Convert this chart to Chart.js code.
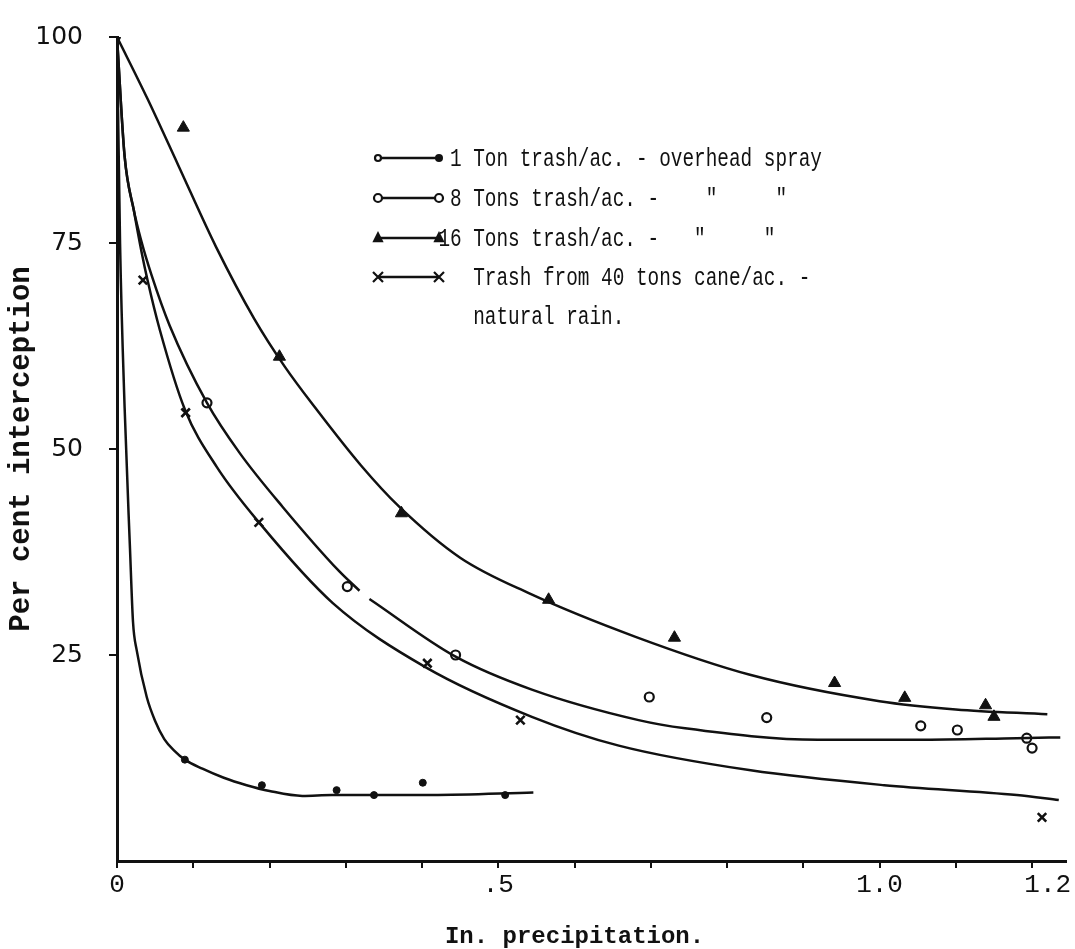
<!DOCTYPE html>
<html>
<head>
<meta charset="utf-8">
<title>Per cent interception vs precipitation</title>
<script src="https://cdn.jsdelivr.net/npm/chart.js@4.4.1/dist/chart.umd.min.js"></script>
<style>
  html, body { margin: 0; padding: 0; background: #fff; }
  #wrap { width: 1075px; height: 949px; }
</style>
</head>
<body>
<div id="wrap"><canvas id="chart" width="1075" height="949"></canvas></div>
<script>
// Hand-drawn curves as [inches, per cent]
const curve1Ton = [[0, 100], [0.004, 75], [0.010, 55], [0.017, 38], [0.021, 29], [0.026, 25.5],
    [0.039, 19.9], [0.05, 17], [0.062, 14.8], [0.075, 13.4], [0.089, 12.3], [0.112, 11.2],
    [0.14, 10.1], [0.17, 9.2], [0.2, 8.5], [0.243, 7.9], [0.282, 8.0], [0.413, 8.0], [0.546, 8.3]];
const curve8Tons = [[0, 100], [0.010, 85.5], [0.022, 79], [0.032, 75.2], [0.045, 71.2], [0.069, 65],
    [0.118, 55.6], [0.161, 49.5], [0.217, 43.0], [0.291, 35.2], [0.318, 32.8], [0.325, null],
    [0.331, 31.8], [0.444, 24.8], [0.544, 20.8], [0.684, 17.1], [0.745, 16.1], [0.919, 14.7],
    [1.05, 14.7], [1.18, 14.9], [1.237, 15.0]];
const curve16Tons = [[0, 100], [0.04, 92.5], [0.08, 84.5], [0.13, 74.5], [0.18, 65.8], [0.22, 60.0],
    [0.26, 55.0], [0.32, 48.0], [0.37, 43.0], [0.45, 36.8], [0.54, 32.5], [0.68, 27.2],
    [0.83, 22.6], [1.0, 19.4], [1.1, 18.4], [1.22, 17.8]];
const curve40Tons = [[0, 100], [0.010, 85.5], [0.022, 79], [0.032, 74], [0.040, 70.5], [0.056, 64.5],
    [0.089, 54.8], [0.131, 47.8], [0.187, 41], [0.283, 31.3], [0.405, 23.5], [0.544, 17.5],
    [0.658, 14.0], [0.831, 11], [1.006, 9.2], [1.18, 8], [1.235, 7.4]];

// Observed points
const points1Ton = [[0, 100], [0.089, 12.3], [0.19, 9.2], [0.288, 8.6], [0.337, 8.0], [0.401, 9.5], [0.509, 8.0]];
const points8Tons = [[0.118, 55.6], [0.302, 33.3], [0.444, 25.0], [0.698, 19.9], [0.852, 17.4],
    [1.054, 16.4], [1.102, 15.9], [1.193, 14.9], [1.2, 13.7]];
const points16Tons = [[0.087, 89.0], [0.213, 61.2], [0.373, 42.2], [0.566, 31.7], [0.731, 27.1],
    [0.941, 21.6], [1.033, 19.8], [1.139, 18.9], [1.15, 17.5]];
const points40Tons = [[0.034, 70.5], [0.09, 54.4], [0.186, 41.1], [0.407, 24.0], [0.529, 17.1], [1.213, 5.3]];

const xTickValues = [0, 0.1, 0.2, 0.3, 0.4, 0.5, 0.6, 0.7, 0.8, 0.9, 1.0, 1.1, 1.2];
const xTickText = { 0: "0", 5: ".5", 10: "1.0", 12: "  1.2" };
const yTickValues = [25, 50, 75, 100];

const legendLines = [
    "1 Ton trash/ac. - overhead spray",
    "8 Tons trash/ac. -    \"     \"",
    "16 Tons trash/ac. -   \"     \"",
    "Trash from 40 tons cane/ac. -",
    "natural rain."
];
const xTitle = "In. precipitation.";
const yTitle = "Per cent interception";

const INK = "#111";
const toXY = arr => arr.map(p => ({ x: p[0], y: p[1] }));

function curve(arr) {
    return {
        data: toXY(arr),
        showLine: true,
        borderColor: INK,
        borderWidth: 2.5,
        pointRadius: 0,
        cubicInterpolationMode: "monotone",
        spanGaps: false
    };
}

const datasets = [
    curve(curve1Ton),
    curve(curve8Tons),
    curve(curve16Tons),
    curve(curve40Tons),
    { data: toXY(points1Ton), pointStyle: "circle", pointRadius: 3.5, backgroundColor: INK, borderColor: INK, borderWidth: 1 },
    { data: toXY(points8Tons), pointStyle: "circle", pointRadius: 4.5, backgroundColor: "#fff", borderColor: INK, borderWidth: 2.2 },
    { data: toXY(points16Tons), pointStyle: "triangle", pointRadius: 7, backgroundColor: INK, borderColor: INK, borderWidth: 1 },
    { data: toXY(points40Tons), pointStyle: "crossRot", pointRadius: 6, borderColor: INK, borderWidth: 2.6 }
];

// typed legend and x caption drawn on top of the plot
function marker(ctx, kind, x, y, r) {
    ctx.beginPath();
    if (kind === "dot") {
        ctx.arc(x, y, r, 0, Math.PI * 2);
        ctx.fill();
    } else if (kind === "ring") {
        ctx.arc(x, y, r, 0, Math.PI * 2);
        ctx.fillStyle = "#fff";
        ctx.fill();
        ctx.stroke();
        ctx.fillStyle = INK;
    } else if (kind === "tri") {
        ctx.moveTo(x, y - r);
        ctx.lineTo(x + r * 0.8, y + r * 0.6);
        ctx.lineTo(x - r * 0.8, y + r * 0.6);
        ctx.closePath();
        ctx.fill();
    } else if (kind === "cross") {
        ctx.moveTo(x - r, y - r); ctx.lineTo(x + r, y + r);
        ctx.moveTo(x + r, y - r); ctx.lineTo(x - r, y + r);
        ctx.stroke();
    }
}

function typed(ctx, text, x, y, size, squeeze) {
    ctx.save();
    ctx.translate(x, y);
    ctx.scale(squeeze, 1);
    ctx.font = size + "px 'Liberation Mono', 'DejaVu Sans Mono', monospace";
    ctx.textBaseline = "middle";
    ctx.textAlign = "left";
    ctx.fillText(text, 0, 0);
    ctx.restore();
}

const typedNotes = {
    id: "typedNotes",
    afterDraw(chart) {
        const ctx = chart.ctx;
        const area = chart.chartArea;
        ctx.save();
        ctx.fillStyle = INK;
        ctx.strokeStyle = INK;
        ctx.lineWidth = 2.2;

        const size = 26, squeeze = 0.745;
        const cw = size * 0.6 * squeeze;
        const textX = area.left + 333;
        const lineL = area.left + 261, lineR = area.left + 322;
        const rowY = [158, 198, 238, 277, 316];
        const ends = [["ring", "dot"], ["ring", "ring"], ["tri", "tri"], ["cross", "cross"]];
        const sizes = { dot: 4, ring: 4, tri: 7, cross: 5 };

        ends.forEach((pair, i) => {
            const y = rowY[i];
            ctx.lineWidth = 2.6;
            ctx.beginPath();
            ctx.moveTo(lineL, y);
            ctx.lineTo(lineR, y);
            ctx.stroke();
            ctx.lineWidth = 2.2;
            marker(ctx, pair[0], lineL, y, sizes[pair[0]] - (i === 0 ? 1 : 0));
            marker(ctx, pair[1], lineR, y, sizes[pair[1]]);
        });

        const offsets = [0, 0, -1, 2, 2];
        legendLines.forEach((t, i) => {
            typed(ctx, t, textX + offsets[i] * cw, rowY[i] + 1, size, squeeze);
        });

        // x caption
        ctx.font = "bold 24px 'Liberation Mono', 'DejaVu Sans Mono', monospace";
        ctx.textAlign = "center";
        ctx.textBaseline = "middle";
        ctx.fillText(xTitle, chart.scales.x.getPixelForValue(0.6), 937);
        ctx.restore();
    }
};

new Chart(document.getElementById("chart"), {
    type: "scatter",
    data: { datasets: datasets },
    options: {
        responsive: false,
        animation: false,
        events: [],
        layout: { padding: { top: 37, right: 5, left: 0, bottom: 0 } },
        plugins: {
            legend: { display: false },
            tooltip: { enabled: false }
        },
        scales: {
            x: {
                type: "linear",
                min: 0,
                max: 1.245,
                afterBuildTicks: s => { s.ticks = xTickValues.map(v => ({ value: v })); },
                afterFit: s => { s.height = 88; s.paddingLeft = 0; s.paddingRight = 0; },
                ticks: {
                    autoSkip: false,
                    maxRotation: 0,
                    padding: 2,
                    color: INK,
                    font: { family: "'Liberation Mono', monospace", size: 26 },
                    callback: v => xTickText[Math.round(v * 10)] ?? ""
                },
                grid: { drawOnChartArea: false, tickLength: 7, color: INK, lineWidth: 2 },
                border: { color: INK, width: 3 }
            },
            y: {
                type: "linear",
                min: 0,
                max: 100,
                afterBuildTicks: s => { s.ticks = yTickValues.map(v => ({ value: v })); },
                afterFit: s => { s.width = 117; s.paddingTop = 0; s.paddingBottom = 0; },
                ticks: {
                    padding: 26,
                    color: INK,
                    font: { family: "'DejaVu Sans', sans-serif", size: 25 }
                },
                grid: { drawOnChartArea: false, tickLength: 8, color: INK, lineWidth: 2 },
                border: { color: INK, width: 3 },
                title: {
                    display: true,
                    text: yTitle,
                    color: INK,
                    padding: { top: 4, bottom: 0 },
                    font: { family: "'Liberation Mono', monospace", size: 29, weight: "bold" }
                }
            }
        }
    },
    plugins: [typedNotes]
});
</script>
</body>
</html>
